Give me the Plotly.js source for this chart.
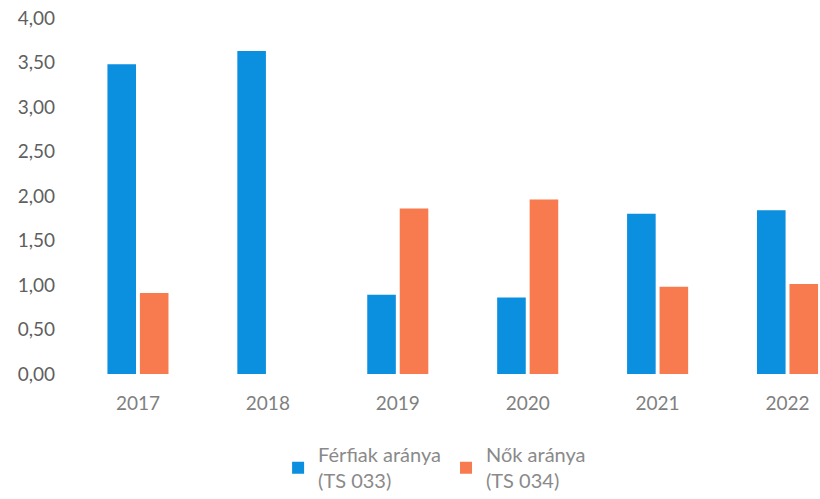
<!DOCTYPE html>
<html>
<head>
<meta charset="utf-8">
<script src="https://cdn.plot.ly/plotly-3.0.1.min.js"></script>
<style>html,body{margin:0;padding:0;background:#fff;}#chart{width:820px;height:499px;}</style>
</head>
<body>
<div id="chart"></div>
<script>
const years = ["2017", "2018", "2019", "2020", "2021", "2022"];
const ferfiak = [3.48, 3.63, 0.89, 0.86, 1.80, 1.84];
const nok = [0.91, null, 1.86, 1.96, 0.98, 1.01];
const yTicks = [0, 0.5, 1, 1.5, 2, 2.5, 3, 3.5, 4];
const yTickText = ["0,00", "0,50", "1,00", "1,50", "2,00", "2,50", "3,00", "3,50", "4,00"];
const seriesNames = ["Férfiak aránya<br>(TS 033)", "Nők aránya<br>(TS 034)"];

const traces = [
  {type: "bar", x: years, y: ferfiak, name: seriesNames[0], marker: {color: "#0b8fdf"}},
  {type: "bar", x: years, y: nok, name: seriesNames[1], marker: {color: "#f77b4f"}}
];

const layout = {
  width: 820, height: 499,
  margin: {l: 73, r: 0, t: 18, b: 125},
  paper_bgcolor: "#fff", plot_bgcolor: "#fff",
  font: {family: "Lato, 'Open Sans', sans-serif", color: "#7f7f7f", size: 19},
  barmode: "group",
  bargap: 0.5,
  bargroupgap: 0.12,
  showlegend: true,
  legend: {orientation: "h", x: 0.53, xanchor: "center", xref: "container",
           y: 0.128, yanchor: "top", yref: "container",
           font: {size: 20, color: "#8a8a8a"}, itemwidth: 30, tracegroupgap: 0},
  xaxis: {type: "category", range: [-0.5, 5.25], showgrid: false, zeroline: false,
          showline: false, ticks: "", tickfont: {size: 19, color: "#808080"}, ticklabelstandoff: 16,
          automargin: false},
  yaxis: {range: [0, 4], tickvals: yTicks, ticktext: yTickText, showgrid: false,
          zeroline: false, showline: false, ticks: "", automargin: false,
          tickfont: {size: 19, color: "#5f5f5f"}, ticklabelstandoff: 17}
};

Plotly.newPlot("chart", traces, layout, {displayModeBar: false, staticPlot: true});
</script>
</body>
</html>
